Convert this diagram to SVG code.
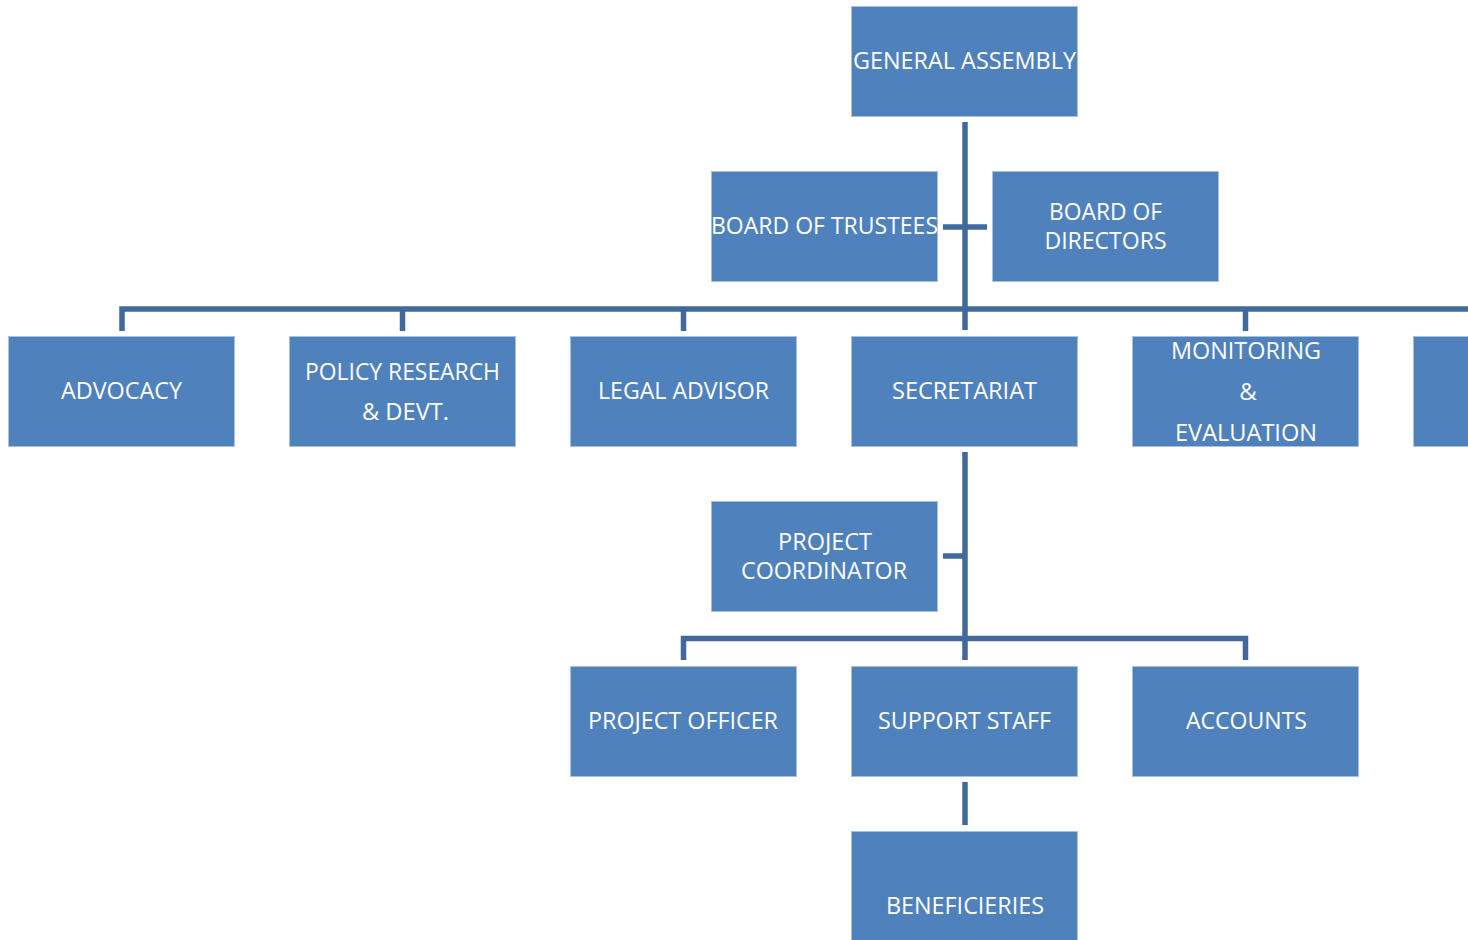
<svg xmlns="http://www.w3.org/2000/svg" width="1468" height="940" viewBox="0 0 1468 940">
<style>
.box{fill:#4F81BD;stroke:#A9C0DE;stroke-width:1}
.t{font-family:"Open Sans","Noto Sans",sans-serif;font-size:24px;fill:#FFFFFF;text-anchor:middle}
.c{stroke:#41699E;stroke-width:5.5;fill:none}
</style>
<rect width="1468" height="940" fill="#FFFFFF"/>
<g id="connectors">
<line class="c" x1="965" y1="122" x2="965" y2="330"/>
<line class="c" x1="943" y1="227" x2="987" y2="227"/>
<polyline class="c" points="122,331 122,309 1468,309"/>
<line class="c" x1="402.5" y1="309" x2="402.5" y2="331"/>
<line class="c" x1="683.5" y1="309" x2="683.5" y2="331"/>
<line class="c" x1="1245.5" y1="309" x2="1245.5" y2="331"/>
<line class="c" x1="965" y1="452" x2="965" y2="660"/>
<line class="c" x1="943" y1="556" x2="965" y2="556"/>
<polyline class="c" points="683.5,660 683.5,638.5 1245.5,638.5 1245.5,660"/>
<line class="c" x1="965" y1="782" x2="965" y2="825"/>
</g>
<g id="general-assembly"><rect class="box" x="851.5" y="6.5" width="226" height="110"/><text class="t" x="964.5" y="69" textLength="223" lengthAdjust="spacingAndGlyphs">GENERAL ASSEMBLY</text></g>
<g id="board-of-trustees"><rect class="box" x="711.5" y="171.5" width="226" height="110"/><text class="t" x="824.5" y="234" textLength="227" lengthAdjust="spacingAndGlyphs">BOARD OF TRUSTEES</text></g>
<g id="board-of-directors"><rect class="box" x="992.5" y="171.5" width="226" height="110"/><text class="t" x="1105.5" y="220" textLength="113" lengthAdjust="spacingAndGlyphs">BOARD OF</text><text class="t" x="1105.5" y="248.5" textLength="122" lengthAdjust="spacingAndGlyphs">DIRECTORS</text></g>
<g id="advocacy"><rect class="box" x="8.5" y="336.5" width="226" height="110"/><text class="t" x="121.5" y="399" textLength="121" lengthAdjust="spacingAndGlyphs">ADVOCACY</text></g>
<g id="policy-research"><rect class="box" x="289.5" y="336.5" width="226" height="110"/><text class="t" x="402.5" y="380" textLength="195" lengthAdjust="spacingAndGlyphs">POLICY RESEARCH</text><text class="t" x="405.5" y="419.5" textLength="87" lengthAdjust="spacingAndGlyphs">&amp; DEVT.</text></g>
<g id="legal-advisor"><rect class="box" x="570.5" y="336.5" width="226" height="110"/><text class="t" x="683.5" y="399" textLength="171" lengthAdjust="spacingAndGlyphs">LEGAL ADVISOR</text></g>
<g id="secretariat"><rect class="box" x="851.5" y="336.5" width="226" height="110"/><text class="t" x="964.5" y="399" textLength="145" lengthAdjust="spacingAndGlyphs">SECRETARIAT</text></g>
<g id="monitoring-evaluation"><rect class="box" x="1132.5" y="336.5" width="226" height="110"/><text class="t" x="1246" y="358.5" textLength="150" lengthAdjust="spacingAndGlyphs">MONITORING</text><text class="t" x="1248" y="400">&amp;</text><text class="t" x="1246" y="440.5" textLength="142" lengthAdjust="spacingAndGlyphs">EVALUATION</text></g>
<g id="partial-box"><rect class="box" x="1413.5" y="336.5" width="60" height="110"/></g>
<g id="project-coordinator"><rect class="box" x="711.5" y="501.5" width="226" height="110"/><text class="t" x="825" y="549.5" textLength="94" lengthAdjust="spacingAndGlyphs">PROJECT</text><text class="t" x="824" y="578.5" textLength="166" lengthAdjust="spacingAndGlyphs">COORDINATOR</text></g>
<g id="project-officer"><rect class="box" x="570.5" y="666.5" width="226" height="110"/><text class="t" x="683" y="729" textLength="190" lengthAdjust="spacingAndGlyphs">PROJECT OFFICER</text></g>
<g id="support-staff"><rect class="box" x="851.5" y="666.5" width="226" height="110"/><text class="t" x="964.5" y="729" textLength="173" lengthAdjust="spacingAndGlyphs">SUPPORT STAFF</text></g>
<g id="accounts"><rect class="box" x="1132.5" y="666.5" width="226" height="110"/><text class="t" x="1246.5" y="729" textLength="121" lengthAdjust="spacingAndGlyphs">ACCOUNTS</text></g>
<g id="beneficieries"><rect class="box" x="851.5" y="831.5" width="226" height="115"/><text class="t" x="965" y="913.5" textLength="158" lengthAdjust="spacingAndGlyphs">BENEFICIERIES</text></g>
</svg>
